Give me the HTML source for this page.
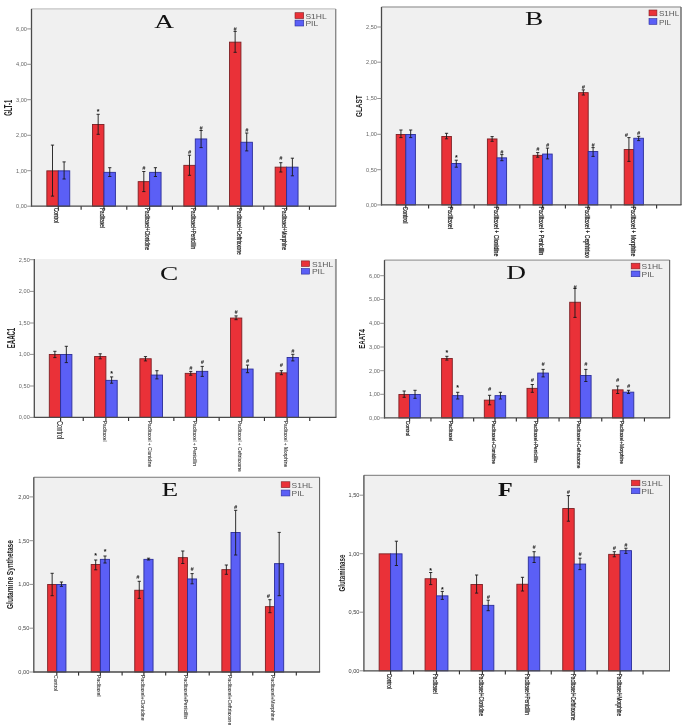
<!DOCTYPE html>
<html lang="en"><head><meta charset="utf-8"><title>Figure</title>
<style>html,body{margin:0;padding:0;background:#fff;}body{width:685px;height:728px;overflow:hidden;}svg{display:block;}</style>
</head><body>
<svg width="685" height="728" viewBox="0 0 685 728">
<rect x="0" y="0" width="685" height="728" fill="#ffffff"/>
<defs>
<clipPath id="cp0"><rect x="0" y="0" width="343" height="258"/></clipPath>
<clipPath id="cp1"><rect x="343" y="0" width="342" height="257.8"/></clipPath>
<clipPath id="cp2"><rect x="0" y="258" width="343" height="214"/></clipPath>
<clipPath id="cp3"><rect x="343" y="258" width="342" height="214"/></clipPath>
<clipPath id="cp4"><rect x="0" y="472" width="332" height="256"/></clipPath>
<clipPath id="cp5"><rect x="332" y="472" width="353" height="256"/></clipPath>
<filter id="soft" x="0" y="0" width="685" height="728" filterUnits="userSpaceOnUse" color-interpolation-filters="sRGB"><feGaussianBlur stdDeviation="0.5"/></filter>
</defs>
<g filter="url(#soft)">
<rect x="-5" y="-5" width="695" height="738" fill="#ffffff"/>
<g clip-path="url(#cp0)">
<g>
<rect x="31.5" y="8.9" width="304.20" height="197.30" fill="#F0F0F0"/>
<line x1="31.5" y1="8.9" x2="335.7" y2="8.9" stroke="#c4c4c4" stroke-width="1.4"/>
<line x1="335.7" y1="8.9" x2="335.7" y2="206.2" stroke="#8a8a8a" stroke-width="1.4"/>
<rect x="46.85" y="170.85" width="11.45" height="35.35" fill="#EA3138" stroke="#7c2024" stroke-width="0.9"/>
<rect x="58.30" y="170.85" width="11.45" height="35.35" fill="#5B5FF6" stroke="#2b2e9a" stroke-width="0.9"/>
<path d="M52.50 145.10V196.10M50.90 145.10H54.10M50.90 196.10H54.10" stroke="#1a1a1a" stroke-width="0.9" fill="none"/>
<path d="M64.10 161.90V179.00M62.50 161.90H65.70M62.50 179.00H65.70" stroke="#1a1a1a" stroke-width="0.9" fill="none"/>
<rect x="92.51" y="124.45" width="11.45" height="81.75" fill="#EA3138" stroke="#7c2024" stroke-width="0.9"/>
<rect x="103.96" y="172.35" width="11.45" height="33.85" fill="#5B5FF6" stroke="#2b2e9a" stroke-width="0.9"/>
<path d="M98.16 114.30V134.30M96.56 114.30H99.76M96.56 134.30H99.76" stroke="#1a1a1a" stroke-width="0.9" fill="none"/>
<path d="M109.76 167.70V176.50M108.16 167.70H111.36M108.16 176.50H111.36" stroke="#1a1a1a" stroke-width="0.9" fill="none"/>
<text transform="translate(98.16,113.90)" font-family='"Liberation Sans", sans-serif' font-size="7" font-weight="bold" fill="#111" text-anchor="middle" >*</text>
<rect x="138.17" y="181.65" width="11.45" height="24.55" fill="#EA3138" stroke="#7c2024" stroke-width="0.9"/>
<rect x="149.62" y="172.35" width="11.45" height="33.85" fill="#5B5FF6" stroke="#2b2e9a" stroke-width="0.9"/>
<path d="M143.82 171.50V191.60M142.22 171.50H145.42M142.22 191.60H145.42" stroke="#1a1a1a" stroke-width="0.9" fill="none"/>
<path d="M155.42 167.70V176.50M153.82 167.70H157.02M153.82 176.50H157.02" stroke="#1a1a1a" stroke-width="0.9" fill="none"/>
<text transform="translate(143.82,170.20)" font-family='"Liberation Sans", sans-serif' font-size="5.6" font-weight="bold" fill="#111" text-anchor="middle" font-style="italic">#</text>
<rect x="183.83" y="165.35" width="11.45" height="40.85" fill="#EA3138" stroke="#7c2024" stroke-width="0.9"/>
<rect x="195.28" y="138.95" width="11.45" height="67.25" fill="#5B5FF6" stroke="#2b2e9a" stroke-width="0.9"/>
<path d="M189.48 155.20V175.30M187.88 155.20H191.08M187.88 175.30H191.08" stroke="#1a1a1a" stroke-width="0.9" fill="none"/>
<path d="M201.08 130.50V147.60M199.48 130.50H202.68M199.48 147.60H202.68" stroke="#1a1a1a" stroke-width="0.9" fill="none"/>
<text transform="translate(189.48,154.00)" font-family='"Liberation Sans", sans-serif' font-size="5.6" font-weight="bold" fill="#111" text-anchor="middle" font-style="italic">#</text>
<text transform="translate(201.08,130.00)" font-family='"Liberation Sans", sans-serif' font-size="5.6" font-weight="bold" fill="#111" text-anchor="middle" font-style="italic">#</text>
<rect x="229.49" y="42.15" width="11.45" height="164.05" fill="#EA3138" stroke="#7c2024" stroke-width="0.9"/>
<rect x="240.94" y="142.25" width="11.45" height="63.95" fill="#5B5FF6" stroke="#2b2e9a" stroke-width="0.9"/>
<path d="M235.14 31.40V52.30M233.54 31.40H236.74M233.54 52.30H236.74" stroke="#1a1a1a" stroke-width="0.9" fill="none"/>
<path d="M246.74 133.00V150.90M245.14 133.00H248.34M245.14 150.90H248.34" stroke="#1a1a1a" stroke-width="0.9" fill="none"/>
<text transform="translate(235.14,31.00)" font-family='"Liberation Sans", sans-serif' font-size="5.6" font-weight="bold" fill="#111" text-anchor="middle" font-style="italic">#</text>
<text transform="translate(246.74,132.00)" font-family='"Liberation Sans", sans-serif' font-size="5.6" font-weight="bold" fill="#111" text-anchor="middle" font-style="italic">#</text>
<rect x="275.15" y="167.15" width="11.45" height="39.05" fill="#EA3138" stroke="#7c2024" stroke-width="0.9"/>
<rect x="286.60" y="167.15" width="11.45" height="39.05" fill="#5B5FF6" stroke="#2b2e9a" stroke-width="0.9"/>
<path d="M280.80 162.70V172.00M279.20 162.70H282.40M279.20 172.00H282.40" stroke="#1a1a1a" stroke-width="0.9" fill="none"/>
<path d="M292.40 158.20V175.80M290.80 158.20H294.00M290.80 175.80H294.00" stroke="#1a1a1a" stroke-width="0.9" fill="none"/>
<text transform="translate(280.80,160.40)" font-family='"Liberation Sans", sans-serif' font-size="5.6" font-weight="bold" fill="#111" text-anchor="middle" font-style="italic">#</text>
<line x1="31.5" y1="8.9" x2="31.5" y2="206.7" stroke="#4a4a4a" stroke-width="1.3"/>
<line x1="31.0" y1="206.2" x2="336.2" y2="206.2" stroke="#4a4a4a" stroke-width="1.3"/>
<line x1="27.2" y1="28.90" x2="31.5" y2="28.90" stroke="#777" stroke-width="0.8"/>
<text transform="translate(27.00,30.80) scale(1.06,1)" font-family='"Liberation Sans", sans-serif' font-size="5.3" font-weight="normal" fill="#666" text-anchor="end" >6,00</text>
<line x1="27.2" y1="64.30" x2="31.5" y2="64.30" stroke="#777" stroke-width="0.8"/>
<text transform="translate(27.00,66.20) scale(1.06,1)" font-family='"Liberation Sans", sans-serif' font-size="5.3" font-weight="normal" fill="#666" text-anchor="end" >4,00</text>
<line x1="27.2" y1="99.70" x2="31.5" y2="99.70" stroke="#777" stroke-width="0.8"/>
<text transform="translate(27.00,101.60) scale(1.06,1)" font-family='"Liberation Sans", sans-serif' font-size="5.3" font-weight="normal" fill="#666" text-anchor="end" >3,00</text>
<line x1="27.2" y1="135.30" x2="31.5" y2="135.30" stroke="#777" stroke-width="0.8"/>
<text transform="translate(27.00,137.20) scale(1.06,1)" font-family='"Liberation Sans", sans-serif' font-size="5.3" font-weight="normal" fill="#666" text-anchor="end" >2,00</text>
<line x1="27.2" y1="170.70" x2="31.5" y2="170.70" stroke="#777" stroke-width="0.8"/>
<text transform="translate(27.00,172.60) scale(1.06,1)" font-family='"Liberation Sans", sans-serif' font-size="5.3" font-weight="normal" fill="#666" text-anchor="end" >1,00</text>
<line x1="27.2" y1="206.20" x2="31.5" y2="206.20" stroke="#777" stroke-width="0.8"/>
<text transform="translate(27.00,208.10) scale(1.06,1)" font-family='"Liberation Sans", sans-serif' font-size="5.3" font-weight="normal" fill="#666" text-anchor="end" >0,00</text>
<line x1="81.13" y1="206.2" x2="81.13" y2="209.79999999999998" stroke="#333" stroke-width="1.15"/>
<line x1="126.79" y1="206.2" x2="126.79" y2="209.79999999999998" stroke="#333" stroke-width="1.15"/>
<line x1="172.45" y1="206.2" x2="172.45" y2="209.79999999999998" stroke="#333" stroke-width="1.15"/>
<line x1="218.11" y1="206.2" x2="218.11" y2="209.79999999999998" stroke="#333" stroke-width="1.15"/>
<line x1="263.77" y1="206.2" x2="263.77" y2="209.79999999999998" stroke="#333" stroke-width="1.15"/>
<line x1="309.43" y1="206.2" x2="309.43" y2="209.79999999999998" stroke="#333" stroke-width="1.15"/>
<line x1="58.30" y1="206.2" x2="58.30" y2="209.79999999999998" stroke="#333" stroke-width="1.15"/>
<text transform="translate(54.00,207.90) rotate(90) scale(0.69,1)" font-family='"Liberation Sans", sans-serif' font-size="6.8" font-weight="normal" fill="#1c1c1c" text-anchor="start" stroke="#1c1c1c" stroke-width="0.22">Control</text>
<line x1="103.96" y1="206.2" x2="103.96" y2="209.79999999999998" stroke="#333" stroke-width="1.15"/>
<text transform="translate(99.66,207.90) rotate(90) scale(0.69,1)" font-family='"Liberation Sans", sans-serif' font-size="6.8" font-weight="normal" fill="#1c1c1c" text-anchor="start" stroke="#1c1c1c" stroke-width="0.22">Paclitaxel</text>
<line x1="149.62" y1="206.2" x2="149.62" y2="209.79999999999998" stroke="#333" stroke-width="1.15"/>
<text transform="translate(145.32,207.90) rotate(90) scale(0.69,1)" font-family='"Liberation Sans", sans-serif' font-size="6.8" font-weight="normal" fill="#1c1c1c" text-anchor="start" stroke="#1c1c1c" stroke-width="0.22">Paclitaxel+Clonidine</text>
<line x1="195.28" y1="206.2" x2="195.28" y2="209.79999999999998" stroke="#333" stroke-width="1.15"/>
<text transform="translate(190.98,207.90) rotate(90) scale(0.69,1)" font-family='"Liberation Sans", sans-serif' font-size="6.8" font-weight="normal" fill="#1c1c1c" text-anchor="start" stroke="#1c1c1c" stroke-width="0.22">Paclitaxel+Penicillin</text>
<line x1="240.94" y1="206.2" x2="240.94" y2="209.79999999999998" stroke="#333" stroke-width="1.15"/>
<text transform="translate(236.64,207.90) rotate(90) scale(0.69,1)" font-family='"Liberation Sans", sans-serif' font-size="6.8" font-weight="normal" fill="#1c1c1c" text-anchor="start" stroke="#1c1c1c" stroke-width="0.22">Paclitaxel+Ceftriaxone</text>
<line x1="286.60" y1="206.2" x2="286.60" y2="209.79999999999998" stroke="#333" stroke-width="1.15"/>
<text transform="translate(282.30,207.90) rotate(90) scale(0.69,1)" font-family='"Liberation Sans", sans-serif' font-size="6.8" font-weight="normal" fill="#1c1c1c" text-anchor="start" stroke="#1c1c1c" stroke-width="0.22">Paclitaxel+Morphine</text>
<text transform="translate(12.30,107.80) rotate(-90) scale(0.585,1)" font-family='"Liberation Sans", sans-serif' font-size="10" font-weight="bold" fill="#222" text-anchor="middle" >GLT-1</text>
<text transform="translate(154.20,27.90) scale(1.44,1)" font-family='"Liberation Serif", serif' font-size="19" font-weight="normal" fill="#111" text-anchor="start" >A</text>
<rect x="295.0" y="12.7" width="8.7" height="5.9" fill="#EA3138" stroke="#7c2024" stroke-width="0.6"/>
<rect x="295.0" y="20.10" width="8.7" height="5.9" fill="#5B5FF6" stroke="#2b2e9a" stroke-width="0.6"/>
<text transform="translate(305.40,18.80) scale(1.22,1)" font-family='"Liberation Sans", sans-serif' font-size="7" font-weight="normal" fill="#5a5a5a" text-anchor="start" >S1HL</text>
<text transform="translate(305.40,26.20) scale(1.22,1)" font-family='"Liberation Sans", sans-serif' font-size="7" font-weight="normal" fill="#5a5a5a" text-anchor="start" >PIL</text>
</g>
</g>
<g clip-path="url(#cp1)">
<g>
<rect x="381.5" y="7.0" width="299.50" height="197.90" fill="#F0F0F0"/>
<line x1="381.5" y1="7.0" x2="681.0" y2="7.0" stroke="#aaaaaa" stroke-width="1.4"/>
<line x1="681.0" y1="7.0" x2="681.0" y2="204.9" stroke="#707070" stroke-width="1.5"/>
<rect x="396.20" y="134.45" width="9.60" height="70.45" fill="#EA3138" stroke="#7c2024" stroke-width="0.9"/>
<rect x="405.80" y="134.45" width="9.60" height="70.45" fill="#5B5FF6" stroke="#2b2e9a" stroke-width="0.9"/>
<path d="M400.93 130.00V137.60M399.32 130.00H402.53M399.32 137.60H402.53" stroke="#1a1a1a" stroke-width="0.9" fill="none"/>
<path d="M410.68 130.00V137.60M409.07 130.00H412.28M409.07 137.60H412.28" stroke="#1a1a1a" stroke-width="0.9" fill="none"/>
<rect x="441.80" y="136.45" width="9.60" height="68.45" fill="#EA3138" stroke="#7c2024" stroke-width="0.9"/>
<rect x="451.40" y="163.55" width="9.60" height="41.35" fill="#5B5FF6" stroke="#2b2e9a" stroke-width="0.9"/>
<path d="M446.53 133.30V138.80M444.93 133.30H448.13M444.93 138.80H448.13" stroke="#1a1a1a" stroke-width="0.9" fill="none"/>
<path d="M456.28 160.20V167.20M454.68 160.20H457.88M454.68 167.20H457.88" stroke="#1a1a1a" stroke-width="0.9" fill="none"/>
<text transform="translate(456.28,159.80)" font-family='"Liberation Sans", sans-serif' font-size="7" font-weight="bold" fill="#111" text-anchor="middle" >*</text>
<rect x="487.40" y="138.95" width="9.60" height="65.95" fill="#EA3138" stroke="#7c2024" stroke-width="0.9"/>
<rect x="497.00" y="157.85" width="9.60" height="47.05" fill="#5B5FF6" stroke="#2b2e9a" stroke-width="0.9"/>
<path d="M492.12 136.60V141.30M490.52 136.60H493.73M490.52 141.30H493.73" stroke="#1a1a1a" stroke-width="0.9" fill="none"/>
<path d="M501.88 154.60V160.70M500.27 154.60H503.48M500.27 160.70H503.48" stroke="#1a1a1a" stroke-width="0.9" fill="none"/>
<text transform="translate(501.88,154.10)" font-family='"Liberation Sans", sans-serif' font-size="5.6" font-weight="bold" fill="#111" text-anchor="middle" font-style="italic">#</text>
<rect x="533.00" y="155.35" width="9.60" height="49.55" fill="#EA3138" stroke="#7c2024" stroke-width="0.9"/>
<rect x="542.60" y="154.05" width="9.60" height="50.85" fill="#5B5FF6" stroke="#2b2e9a" stroke-width="0.9"/>
<path d="M537.73 152.60V157.20M536.12 152.60H539.33M536.12 157.20H539.33" stroke="#1a1a1a" stroke-width="0.9" fill="none"/>
<path d="M547.48 148.10V158.90M545.88 148.10H549.08M545.88 158.90H549.08" stroke="#1a1a1a" stroke-width="0.9" fill="none"/>
<text transform="translate(537.73,150.90)" font-family='"Liberation Sans", sans-serif' font-size="5.6" font-weight="bold" fill="#111" text-anchor="middle" font-style="italic">#</text>
<text transform="translate(547.48,147.10)" font-family='"Liberation Sans", sans-serif' font-size="5.6" font-weight="bold" fill="#111" text-anchor="middle" font-style="italic">#</text>
<rect x="578.60" y="92.65" width="9.60" height="112.25" fill="#EA3138" stroke="#7c2024" stroke-width="0.9"/>
<rect x="588.20" y="151.55" width="9.60" height="53.35" fill="#5B5FF6" stroke="#2b2e9a" stroke-width="0.9"/>
<path d="M583.33 89.90V95.00M581.73 89.90H584.93M581.73 95.00H584.93" stroke="#1a1a1a" stroke-width="0.9" fill="none"/>
<path d="M593.08 147.60V156.40M591.48 147.60H594.68M591.48 156.40H594.68" stroke="#1a1a1a" stroke-width="0.9" fill="none"/>
<text transform="translate(583.33,89.40)" font-family='"Liberation Sans", sans-serif' font-size="5.6" font-weight="bold" fill="#111" text-anchor="middle" font-style="italic">#</text>
<text transform="translate(593.08,147.10)" font-family='"Liberation Sans", sans-serif' font-size="5.6" font-weight="bold" fill="#111" text-anchor="middle" font-style="italic">#</text>
<rect x="624.20" y="149.55" width="9.60" height="55.35" fill="#EA3138" stroke="#7c2024" stroke-width="0.9"/>
<rect x="633.80" y="138.25" width="9.60" height="66.65" fill="#5B5FF6" stroke="#2b2e9a" stroke-width="0.9"/>
<path d="M628.92 137.60V161.40M627.32 137.60H630.52M627.32 161.40H630.52" stroke="#1a1a1a" stroke-width="0.9" fill="none"/>
<path d="M638.67 136.30V140.60M637.07 136.30H640.27M637.07 140.60H640.27" stroke="#1a1a1a" stroke-width="0.9" fill="none"/>
<text transform="translate(626.42,137.00)" font-family='"Liberation Sans", sans-serif' font-size="5.6" font-weight="bold" fill="#111" text-anchor="middle" font-style="italic">#</text>
<text transform="translate(638.67,134.50)" font-family='"Liberation Sans", sans-serif' font-size="5.6" font-weight="bold" fill="#111" text-anchor="middle" font-style="italic">#</text>
<line x1="381.5" y1="7.0" x2="381.5" y2="205.4" stroke="#4a4a4a" stroke-width="1.3"/>
<line x1="381.0" y1="204.9" x2="681.5" y2="204.9" stroke="#4a4a4a" stroke-width="1.3"/>
<line x1="377.2" y1="27.00" x2="381.5" y2="27.00" stroke="#777" stroke-width="0.8"/>
<text transform="translate(377.00,28.90) scale(1.06,1)" font-family='"Liberation Sans", sans-serif' font-size="5.3" font-weight="normal" fill="#666" text-anchor="end" >2,50</text>
<line x1="377.2" y1="62.20" x2="381.5" y2="62.20" stroke="#777" stroke-width="0.8"/>
<text transform="translate(377.00,64.10) scale(1.06,1)" font-family='"Liberation Sans", sans-serif' font-size="5.3" font-weight="normal" fill="#666" text-anchor="end" >2,00</text>
<line x1="377.2" y1="98.50" x2="381.5" y2="98.50" stroke="#777" stroke-width="0.8"/>
<text transform="translate(377.00,100.40) scale(1.06,1)" font-family='"Liberation Sans", sans-serif' font-size="5.3" font-weight="normal" fill="#666" text-anchor="end" >1,50</text>
<line x1="377.2" y1="134.30" x2="381.5" y2="134.30" stroke="#777" stroke-width="0.8"/>
<text transform="translate(377.00,136.20) scale(1.06,1)" font-family='"Liberation Sans", sans-serif' font-size="5.3" font-weight="normal" fill="#666" text-anchor="end" >1,00</text>
<line x1="377.2" y1="169.70" x2="381.5" y2="169.70" stroke="#777" stroke-width="0.8"/>
<text transform="translate(377.00,171.60) scale(1.06,1)" font-family='"Liberation Sans", sans-serif' font-size="5.3" font-weight="normal" fill="#666" text-anchor="end" >0,50</text>
<line x1="377.2" y1="204.90" x2="381.5" y2="204.90" stroke="#777" stroke-width="0.8"/>
<text transform="translate(377.00,206.80) scale(1.06,1)" font-family='"Liberation Sans", sans-serif' font-size="5.3" font-weight="normal" fill="#666" text-anchor="end" >0,00</text>
<line x1="428.60" y1="204.9" x2="428.60" y2="208.5" stroke="#333" stroke-width="1.15"/>
<line x1="474.20" y1="204.9" x2="474.20" y2="208.5" stroke="#333" stroke-width="1.15"/>
<line x1="519.80" y1="204.9" x2="519.80" y2="208.5" stroke="#333" stroke-width="1.15"/>
<line x1="565.40" y1="204.9" x2="565.40" y2="208.5" stroke="#333" stroke-width="1.15"/>
<line x1="611.00" y1="204.9" x2="611.00" y2="208.5" stroke="#333" stroke-width="1.15"/>
<line x1="656.60" y1="204.9" x2="656.60" y2="208.5" stroke="#333" stroke-width="1.15"/>
<line x1="405.80" y1="204.9" x2="405.80" y2="208.5" stroke="#333" stroke-width="1.15"/>
<text transform="translate(402.50,206.60) rotate(90) scale(0.8,1)" font-family='"Liberation Sans", sans-serif' font-size="6.5" font-weight="normal" fill="#1c1c1c" text-anchor="start" stroke="#1c1c1c" stroke-width="0.22">Control</text>
<line x1="451.40" y1="204.9" x2="451.40" y2="208.5" stroke="#333" stroke-width="1.15"/>
<text transform="translate(448.10,206.60) rotate(90) scale(0.8,1)" font-family='"Liberation Sans", sans-serif' font-size="6.5" font-weight="normal" fill="#1c1c1c" text-anchor="start" stroke="#1c1c1c" stroke-width="0.22">Paclitaxel</text>
<line x1="497.00" y1="204.9" x2="497.00" y2="208.5" stroke="#333" stroke-width="1.15"/>
<text transform="translate(493.70,206.60) rotate(90) scale(0.8,1)" font-family='"Liberation Sans", sans-serif' font-size="6.5" font-weight="normal" fill="#1c1c1c" text-anchor="start" stroke="#1c1c1c" stroke-width="0.22">Paclitaxel + Clonidine</text>
<line x1="542.60" y1="204.9" x2="542.60" y2="208.5" stroke="#333" stroke-width="1.15"/>
<text transform="translate(539.30,206.60) rotate(90) scale(0.8,1)" font-family='"Liberation Sans", sans-serif' font-size="6.5" font-weight="normal" fill="#1c1c1c" text-anchor="start" stroke="#1c1c1c" stroke-width="0.22">Paclitaxel + Penicillin</text>
<line x1="588.20" y1="204.9" x2="588.20" y2="208.5" stroke="#333" stroke-width="1.15"/>
<text transform="translate(584.90,206.60) rotate(90) scale(0.8,1)" font-family='"Liberation Sans", sans-serif' font-size="6.5" font-weight="normal" fill="#1c1c1c" text-anchor="start" stroke="#1c1c1c" stroke-width="0.22">Paclitaxel + Cephtriaxone</text>
<line x1="633.80" y1="204.9" x2="633.80" y2="208.5" stroke="#333" stroke-width="1.15"/>
<text transform="translate(630.50,206.60) rotate(90) scale(0.8,1)" font-family='"Liberation Sans", sans-serif' font-size="6.5" font-weight="normal" fill="#1c1c1c" text-anchor="start" stroke="#1c1c1c" stroke-width="0.22">Paclitaxel + Morphine</text>
<text transform="translate(361.90,106.20) rotate(-90) scale(0.664,1)" font-family='"Liberation Sans", sans-serif' font-size="9.6" font-weight="bold" fill="#222" text-anchor="middle" >GLAST</text>
<text transform="translate(525.00,25.00) scale(1.44,1)" font-family='"Liberation Serif", serif' font-size="19" font-weight="normal" fill="#111" text-anchor="start" >B</text>
<rect x="649.0" y="10.0" width="7.9" height="5.8" fill="#EA3138" stroke="#7c2024" stroke-width="0.6"/>
<rect x="649.0" y="18.60" width="7.9" height="5.8" fill="#5B5FF6" stroke="#2b2e9a" stroke-width="0.6"/>
<text transform="translate(658.90,16.00) scale(1.16,1)" font-family='"Liberation Sans", sans-serif' font-size="7" font-weight="normal" fill="#5a5a5a" text-anchor="start" >S1HL</text>
<text transform="translate(658.90,24.60) scale(1.16,1)" font-family='"Liberation Sans", sans-serif' font-size="7" font-weight="normal" fill="#5a5a5a" text-anchor="start" >PIL</text>
</g>
</g>
<g clip-path="url(#cp2)">
<g>
<rect x="34.3" y="259.0" width="301.60" height="158.40" fill="#F0F0F0"/>
<line x1="335.9" y1="259.0" x2="335.9" y2="417.4" stroke="#999999" stroke-width="1.9"/>
<rect x="49.30" y="354.45" width="11.30" height="62.95" fill="#EA3138" stroke="#7c2024" stroke-width="0.9"/>
<rect x="60.60" y="354.45" width="11.30" height="62.95" fill="#5B5FF6" stroke="#2b2e9a" stroke-width="0.9"/>
<path d="M54.88 351.30V357.60M53.27 351.30H56.48M53.27 357.60H56.48" stroke="#1a1a1a" stroke-width="0.9" fill="none"/>
<path d="M66.33 346.30V362.60M64.73 346.30H67.92M64.73 362.60H67.92" stroke="#1a1a1a" stroke-width="0.9" fill="none"/>
<rect x="94.60" y="356.45" width="11.30" height="60.95" fill="#EA3138" stroke="#7c2024" stroke-width="0.9"/>
<rect x="105.90" y="380.35" width="11.30" height="37.05" fill="#5B5FF6" stroke="#2b2e9a" stroke-width="0.9"/>
<path d="M100.18 353.80V358.80M98.58 353.80H101.78M98.58 358.80H101.78" stroke="#1a1a1a" stroke-width="0.9" fill="none"/>
<path d="M111.62 376.90V383.20M110.03 376.90H113.22M110.03 383.20H113.22" stroke="#1a1a1a" stroke-width="0.9" fill="none"/>
<text transform="translate(111.62,375.60)" font-family='"Liberation Sans", sans-serif' font-size="7" font-weight="bold" fill="#111" text-anchor="middle" >*</text>
<rect x="139.90" y="358.75" width="11.30" height="58.65" fill="#EA3138" stroke="#7c2024" stroke-width="0.9"/>
<rect x="151.20" y="375.05" width="11.30" height="42.35" fill="#5B5FF6" stroke="#2b2e9a" stroke-width="0.9"/>
<path d="M145.47 356.60V360.90M143.88 356.60H147.07M143.88 360.90H147.07" stroke="#1a1a1a" stroke-width="0.9" fill="none"/>
<path d="M156.92 370.70V378.90M155.32 370.70H158.52M155.32 378.90H158.52" stroke="#1a1a1a" stroke-width="0.9" fill="none"/>
<rect x="185.20" y="373.35" width="11.30" height="44.05" fill="#EA3138" stroke="#7c2024" stroke-width="0.9"/>
<rect x="196.50" y="371.35" width="11.30" height="46.05" fill="#5B5FF6" stroke="#2b2e9a" stroke-width="0.9"/>
<path d="M190.77 371.40V375.20M189.17 371.40H192.37M189.17 375.20H192.37" stroke="#1a1a1a" stroke-width="0.9" fill="none"/>
<path d="M202.22 366.40V376.40M200.62 366.40H203.82M200.62 376.40H203.82" stroke="#1a1a1a" stroke-width="0.9" fill="none"/>
<text transform="translate(190.77,370.10)" font-family='"Liberation Sans", sans-serif' font-size="5.6" font-weight="bold" fill="#111" text-anchor="middle" font-style="italic">#</text>
<text transform="translate(202.22,364.10)" font-family='"Liberation Sans", sans-serif' font-size="5.6" font-weight="bold" fill="#111" text-anchor="middle" font-style="italic">#</text>
<rect x="230.50" y="318.05" width="11.30" height="99.35" fill="#EA3138" stroke="#7c2024" stroke-width="0.9"/>
<rect x="241.80" y="369.05" width="11.30" height="48.35" fill="#5B5FF6" stroke="#2b2e9a" stroke-width="0.9"/>
<path d="M236.07 315.90V319.70M234.47 315.90H237.67M234.47 319.70H237.67" stroke="#1a1a1a" stroke-width="0.9" fill="none"/>
<path d="M247.52 365.10V372.70M245.92 365.10H249.12M245.92 372.70H249.12" stroke="#1a1a1a" stroke-width="0.9" fill="none"/>
<text transform="translate(236.07,313.60)" font-family='"Liberation Sans", sans-serif' font-size="5.6" font-weight="bold" fill="#111" text-anchor="middle" font-style="italic">#</text>
<text transform="translate(247.52,362.60)" font-family='"Liberation Sans", sans-serif' font-size="5.6" font-weight="bold" fill="#111" text-anchor="middle" font-style="italic">#</text>
<rect x="275.80" y="372.85" width="11.30" height="44.55" fill="#EA3138" stroke="#7c2024" stroke-width="0.9"/>
<rect x="287.10" y="357.45" width="11.30" height="59.95" fill="#5B5FF6" stroke="#2b2e9a" stroke-width="0.9"/>
<path d="M281.38 370.70V374.70M279.77 370.70H282.98M279.77 374.70H282.98" stroke="#1a1a1a" stroke-width="0.9" fill="none"/>
<path d="M292.83 354.30V360.90M291.23 354.30H294.43M291.23 360.90H294.43" stroke="#1a1a1a" stroke-width="0.9" fill="none"/>
<text transform="translate(281.38,367.10)" font-family='"Liberation Sans", sans-serif' font-size="5.6" font-weight="bold" fill="#111" text-anchor="middle" font-style="italic">#</text>
<text transform="translate(292.83,352.60)" font-family='"Liberation Sans", sans-serif' font-size="5.6" font-weight="bold" fill="#111" text-anchor="middle" font-style="italic">#</text>
<line x1="34.3" y1="259.0" x2="34.3" y2="417.9" stroke="#4a4a4a" stroke-width="1.3"/>
<line x1="33.8" y1="417.4" x2="336.4" y2="417.4" stroke="#4a4a4a" stroke-width="1.3"/>
<line x1="29.999999999999996" y1="259.70" x2="34.3" y2="259.70" stroke="#777" stroke-width="0.8"/>
<text transform="translate(29.80,261.60) scale(1.06,1)" font-family='"Liberation Sans", sans-serif' font-size="5.3" font-weight="normal" fill="#666" text-anchor="end" >2,50</text>
<line x1="29.999999999999996" y1="291.40" x2="34.3" y2="291.40" stroke="#777" stroke-width="0.8"/>
<text transform="translate(29.80,293.30) scale(1.06,1)" font-family='"Liberation Sans", sans-serif' font-size="5.3" font-weight="normal" fill="#666" text-anchor="end" >2,00</text>
<line x1="29.999999999999996" y1="323.00" x2="34.3" y2="323.00" stroke="#777" stroke-width="0.8"/>
<text transform="translate(29.80,324.90) scale(1.06,1)" font-family='"Liberation Sans", sans-serif' font-size="5.3" font-weight="normal" fill="#666" text-anchor="end" >1,50</text>
<line x1="29.999999999999996" y1="354.40" x2="34.3" y2="354.40" stroke="#777" stroke-width="0.8"/>
<text transform="translate(29.80,356.30) scale(1.06,1)" font-family='"Liberation Sans", sans-serif' font-size="5.3" font-weight="normal" fill="#666" text-anchor="end" >1,00</text>
<line x1="29.999999999999996" y1="386.00" x2="34.3" y2="386.00" stroke="#777" stroke-width="0.8"/>
<text transform="translate(29.80,387.90) scale(1.06,1)" font-family='"Liberation Sans", sans-serif' font-size="5.3" font-weight="normal" fill="#666" text-anchor="end" >0,50</text>
<line x1="29.999999999999996" y1="417.40" x2="34.3" y2="417.40" stroke="#777" stroke-width="0.8"/>
<text transform="translate(29.80,419.30) scale(1.06,1)" font-family='"Liberation Sans", sans-serif' font-size="5.3" font-weight="normal" fill="#666" text-anchor="end" >0,00</text>
<line x1="83.25" y1="417.4" x2="83.25" y2="421.0" stroke="#333" stroke-width="1.15"/>
<line x1="128.55" y1="417.4" x2="128.55" y2="421.0" stroke="#333" stroke-width="1.15"/>
<line x1="173.85" y1="417.4" x2="173.85" y2="421.0" stroke="#333" stroke-width="1.15"/>
<line x1="219.15" y1="417.4" x2="219.15" y2="421.0" stroke="#333" stroke-width="1.15"/>
<line x1="264.45" y1="417.4" x2="264.45" y2="421.0" stroke="#333" stroke-width="1.15"/>
<line x1="309.75" y1="417.4" x2="309.75" y2="421.0" stroke="#333" stroke-width="1.15"/>
<line x1="60.60" y1="417.4" x2="60.60" y2="421.0" stroke="#333" stroke-width="1.15"/>
<text transform="translate(56.70,421.00) rotate(90) scale(0.68,1)" font-family='"Liberation Sans", sans-serif' font-size="8.4" font-weight="normal" fill="#2a2a2a" text-anchor="start" stroke="#2a2a2a" stroke-width="0.1">Control</text>
<line x1="105.90" y1="417.4" x2="105.90" y2="421.0" stroke="#333" stroke-width="1.15"/>
<text transform="translate(102.50,420.80) rotate(90) scale(0.78,1)" font-family='"Liberation Sans", sans-serif' font-size="6.2" font-weight="normal" fill="#2a2a2a" text-anchor="start" stroke="#2a2a2a" stroke-width="0.1">Paclitaxel</text>
<line x1="151.20" y1="417.4" x2="151.20" y2="421.0" stroke="#333" stroke-width="1.15"/>
<text transform="translate(147.80,420.80) rotate(90) scale(0.78,1)" font-family='"Liberation Sans", sans-serif' font-size="6.2" font-weight="normal" fill="#2a2a2a" text-anchor="start" stroke="#2a2a2a" stroke-width="0.1">Paclitaxel + Clonidine</text>
<line x1="196.50" y1="417.4" x2="196.50" y2="421.0" stroke="#333" stroke-width="1.15"/>
<text transform="translate(193.10,420.80) rotate(90) scale(0.78,1)" font-family='"Liberation Sans", sans-serif' font-size="6.2" font-weight="normal" fill="#2a2a2a" text-anchor="start" stroke="#2a2a2a" stroke-width="0.1">Paclitaxel + Penicillin</text>
<line x1="241.80" y1="417.4" x2="241.80" y2="421.0" stroke="#333" stroke-width="1.15"/>
<text transform="translate(238.40,420.80) rotate(90) scale(0.78,1)" font-family='"Liberation Sans", sans-serif' font-size="6.2" font-weight="normal" fill="#2a2a2a" text-anchor="start" stroke="#2a2a2a" stroke-width="0.1">Paclitaxel + Ceftriaxone</text>
<line x1="287.10" y1="417.4" x2="287.10" y2="421.0" stroke="#333" stroke-width="1.15"/>
<text transform="translate(283.70,420.80) rotate(90) scale(0.78,1)" font-family='"Liberation Sans", sans-serif' font-size="6.2" font-weight="normal" fill="#2a2a2a" text-anchor="start" stroke="#2a2a2a" stroke-width="0.1">Paclitaxel + Morphine</text>
<text transform="translate(15.20,338.00) rotate(-90) scale(0.6,1)" font-family='"Liberation Sans", sans-serif' font-size="10" font-weight="bold" fill="#222" text-anchor="middle" >EAAC1</text>
<text transform="translate(160.00,280.00) scale(1.44,1)" font-family='"Liberation Serif", serif' font-size="19" font-weight="normal" fill="#111" text-anchor="start" >C</text>
<rect x="301.3" y="260.9" width="8.3" height="5.6" fill="#EA3138" stroke="#7c2024" stroke-width="0.6"/>
<rect x="301.3" y="268.50" width="8.3" height="5.6" fill="#5B5FF6" stroke="#2b2e9a" stroke-width="0.6"/>
<text transform="translate(311.90,266.70) scale(1.22,1)" font-family='"Liberation Sans", sans-serif' font-size="7" font-weight="normal" fill="#5a5a5a" text-anchor="start" >S1HL</text>
<text transform="translate(311.90,274.30) scale(1.22,1)" font-family='"Liberation Sans", sans-serif' font-size="7" font-weight="normal" fill="#5a5a5a" text-anchor="start" >PIL</text>
</g>
</g>
<g clip-path="url(#cp3)">
<g>
<rect x="384.5" y="260.1" width="285.10" height="157.80" fill="#F0F0F0"/>
<line x1="384.5" y1="260.1" x2="669.6" y2="260.1" stroke="#9c9c9c" stroke-width="1.2"/>
<line x1="669.6" y1="260.1" x2="669.6" y2="417.9" stroke="#666666" stroke-width="1.2"/>
<rect x="398.90" y="394.45" width="10.70" height="23.45" fill="#EA3138" stroke="#7c2024" stroke-width="0.9"/>
<rect x="409.60" y="394.45" width="10.70" height="23.45" fill="#5B5FF6" stroke="#2b2e9a" stroke-width="0.9"/>
<path d="M404.18 391.00V397.30M402.57 391.00H405.78M402.57 397.30H405.78" stroke="#1a1a1a" stroke-width="0.9" fill="none"/>
<path d="M415.03 390.30V398.30M413.43 390.30H416.63M413.43 398.30H416.63" stroke="#1a1a1a" stroke-width="0.9" fill="none"/>
<rect x="441.60" y="358.45" width="10.70" height="59.45" fill="#EA3138" stroke="#7c2024" stroke-width="0.9"/>
<rect x="452.30" y="395.65" width="10.70" height="22.25" fill="#5B5FF6" stroke="#2b2e9a" stroke-width="0.9"/>
<path d="M446.88 356.30V360.10M445.27 356.30H448.48M445.27 360.10H448.48" stroke="#1a1a1a" stroke-width="0.9" fill="none"/>
<path d="M457.73 392.30V399.00M456.12 392.30H459.33M456.12 399.00H459.33" stroke="#1a1a1a" stroke-width="0.9" fill="none"/>
<text transform="translate(446.88,355.20)" font-family='"Liberation Sans", sans-serif' font-size="7" font-weight="bold" fill="#111" text-anchor="middle" >*</text>
<text transform="translate(457.73,390.40)" font-family='"Liberation Sans", sans-serif' font-size="7" font-weight="bold" fill="#111" text-anchor="middle" >*</text>
<rect x="484.30" y="400.15" width="10.70" height="17.75" fill="#EA3138" stroke="#7c2024" stroke-width="0.9"/>
<rect x="495.00" y="395.65" width="10.70" height="22.25" fill="#5B5FF6" stroke="#2b2e9a" stroke-width="0.9"/>
<path d="M489.57 395.30V404.80M487.97 395.30H491.18M487.97 404.80H491.18" stroke="#1a1a1a" stroke-width="0.9" fill="none"/>
<path d="M500.43 392.30V399.00M498.82 392.30H502.03M498.82 399.00H502.03" stroke="#1a1a1a" stroke-width="0.9" fill="none"/>
<text transform="translate(489.57,391.00)" font-family='"Liberation Sans", sans-serif' font-size="5.6" font-weight="bold" fill="#111" text-anchor="middle" font-style="italic">#</text>
<rect x="527.00" y="388.35" width="10.70" height="29.55" fill="#EA3138" stroke="#7c2024" stroke-width="0.9"/>
<rect x="537.70" y="373.05" width="10.70" height="44.85" fill="#5B5FF6" stroke="#2b2e9a" stroke-width="0.9"/>
<path d="M532.28 384.50V392.30M530.68 384.50H533.88M530.68 392.30H533.88" stroke="#1a1a1a" stroke-width="0.9" fill="none"/>
<path d="M543.12 369.40V376.90M541.52 369.40H544.73M541.52 376.90H544.73" stroke="#1a1a1a" stroke-width="0.9" fill="none"/>
<text transform="translate(532.28,382.20)" font-family='"Liberation Sans", sans-serif' font-size="5.6" font-weight="bold" fill="#111" text-anchor="middle" font-style="italic">#</text>
<text transform="translate(543.12,366.40)" font-family='"Liberation Sans", sans-serif' font-size="5.6" font-weight="bold" fill="#111" text-anchor="middle" font-style="italic">#</text>
<rect x="569.70" y="302.25" width="10.70" height="115.65" fill="#EA3138" stroke="#7c2024" stroke-width="0.9"/>
<rect x="580.40" y="375.55" width="10.70" height="42.35" fill="#5B5FF6" stroke="#2b2e9a" stroke-width="0.9"/>
<path d="M574.98 288.50V317.40M573.38 288.50H576.58M573.38 317.40H576.58" stroke="#1a1a1a" stroke-width="0.9" fill="none"/>
<path d="M585.83 369.40V381.50M584.23 369.40H587.43M584.23 381.50H587.43" stroke="#1a1a1a" stroke-width="0.9" fill="none"/>
<text transform="translate(574.98,288.50)" font-family='"Liberation Sans", sans-serif' font-size="5.6" font-weight="bold" fill="#111" text-anchor="middle" font-style="italic">#</text>
<text transform="translate(585.83,366.40)" font-family='"Liberation Sans", sans-serif' font-size="5.6" font-weight="bold" fill="#111" text-anchor="middle" font-style="italic">#</text>
<rect x="612.40" y="389.85" width="10.70" height="28.05" fill="#EA3138" stroke="#7c2024" stroke-width="0.9"/>
<rect x="623.10" y="392.15" width="10.70" height="25.75" fill="#5B5FF6" stroke="#2b2e9a" stroke-width="0.9"/>
<path d="M617.68 386.00V393.50M616.08 386.00H619.28M616.08 393.50H619.28" stroke="#1a1a1a" stroke-width="0.9" fill="none"/>
<path d="M628.52 390.30V393.50M626.92 390.30H630.12M626.92 393.50H630.12" stroke="#1a1a1a" stroke-width="0.9" fill="none"/>
<text transform="translate(617.68,381.70)" font-family='"Liberation Sans", sans-serif' font-size="5.6" font-weight="bold" fill="#111" text-anchor="middle" font-style="italic">#</text>
<text transform="translate(628.52,387.70)" font-family='"Liberation Sans", sans-serif' font-size="5.6" font-weight="bold" fill="#111" text-anchor="middle" font-style="italic">#</text>
<line x1="384.5" y1="260.1" x2="384.5" y2="418.4" stroke="#4a4a4a" stroke-width="1.3"/>
<line x1="384.0" y1="417.9" x2="670.1" y2="417.9" stroke="#4a4a4a" stroke-width="1.3"/>
<line x1="380.2" y1="275.70" x2="384.5" y2="275.70" stroke="#777" stroke-width="0.8"/>
<text transform="translate(380.00,277.60) scale(1.06,1)" font-family='"Liberation Sans", sans-serif' font-size="5.3" font-weight="normal" fill="#666" text-anchor="end" >6,00</text>
<line x1="380.2" y1="299.50" x2="384.5" y2="299.50" stroke="#777" stroke-width="0.8"/>
<text transform="translate(380.00,301.40) scale(1.06,1)" font-family='"Liberation Sans", sans-serif' font-size="5.3" font-weight="normal" fill="#666" text-anchor="end" >5,00</text>
<line x1="380.2" y1="323.30" x2="384.5" y2="323.30" stroke="#777" stroke-width="0.8"/>
<text transform="translate(380.00,325.20) scale(1.06,1)" font-family='"Liberation Sans", sans-serif' font-size="5.3" font-weight="normal" fill="#666" text-anchor="end" >4,00</text>
<line x1="380.2" y1="347.00" x2="384.5" y2="347.00" stroke="#777" stroke-width="0.8"/>
<text transform="translate(380.00,348.90) scale(1.06,1)" font-family='"Liberation Sans", sans-serif' font-size="5.3" font-weight="normal" fill="#666" text-anchor="end" >3,00</text>
<line x1="380.2" y1="370.70" x2="384.5" y2="370.70" stroke="#777" stroke-width="0.8"/>
<text transform="translate(380.00,372.60) scale(1.06,1)" font-family='"Liberation Sans", sans-serif' font-size="5.3" font-weight="normal" fill="#666" text-anchor="end" >2,00</text>
<line x1="380.2" y1="394.30" x2="384.5" y2="394.30" stroke="#777" stroke-width="0.8"/>
<text transform="translate(380.00,396.20) scale(1.06,1)" font-family='"Liberation Sans", sans-serif' font-size="5.3" font-weight="normal" fill="#666" text-anchor="end" >1,00</text>
<line x1="380.2" y1="417.90" x2="384.5" y2="417.90" stroke="#777" stroke-width="0.8"/>
<text transform="translate(380.00,419.80) scale(1.06,1)" font-family='"Liberation Sans", sans-serif' font-size="5.3" font-weight="normal" fill="#666" text-anchor="end" >0,00</text>
<line x1="430.95" y1="417.9" x2="430.95" y2="421.5" stroke="#333" stroke-width="1.15"/>
<line x1="473.65" y1="417.9" x2="473.65" y2="421.5" stroke="#333" stroke-width="1.15"/>
<line x1="516.35" y1="417.9" x2="516.35" y2="421.5" stroke="#333" stroke-width="1.15"/>
<line x1="559.05" y1="417.9" x2="559.05" y2="421.5" stroke="#333" stroke-width="1.15"/>
<line x1="601.75" y1="417.9" x2="601.75" y2="421.5" stroke="#333" stroke-width="1.15"/>
<line x1="644.45" y1="417.9" x2="644.45" y2="421.5" stroke="#333" stroke-width="1.15"/>
<line x1="409.60" y1="417.9" x2="409.60" y2="421.5" stroke="#333" stroke-width="1.15"/>
<text transform="translate(406.10,420.80) rotate(90) scale(0.77,1)" font-family='"Liberation Sans", sans-serif' font-size="6.2" font-weight="normal" fill="#222" text-anchor="start" stroke="#222" stroke-width="0.22">Control</text>
<line x1="452.30" y1="417.9" x2="452.30" y2="421.5" stroke="#333" stroke-width="1.15"/>
<text transform="translate(448.80,420.80) rotate(90) scale(0.77,1)" font-family='"Liberation Sans", sans-serif' font-size="6.2" font-weight="normal" fill="#222" text-anchor="start" stroke="#222" stroke-width="0.22">Paclitaxel</text>
<line x1="495.00" y1="417.9" x2="495.00" y2="421.5" stroke="#333" stroke-width="1.15"/>
<text transform="translate(491.50,420.80) rotate(90) scale(0.77,1)" font-family='"Liberation Sans", sans-serif' font-size="6.2" font-weight="normal" fill="#222" text-anchor="start" stroke="#222" stroke-width="0.22">Paclitaxel+Clonidine</text>
<line x1="537.70" y1="417.9" x2="537.70" y2="421.5" stroke="#333" stroke-width="1.15"/>
<text transform="translate(534.20,420.80) rotate(90) scale(0.77,1)" font-family='"Liberation Sans", sans-serif' font-size="6.2" font-weight="normal" fill="#222" text-anchor="start" stroke="#222" stroke-width="0.22">Paclitaxel+Penicillin</text>
<line x1="580.40" y1="417.9" x2="580.40" y2="421.5" stroke="#333" stroke-width="1.15"/>
<text transform="translate(576.90,420.80) rotate(90) scale(0.77,1)" font-family='"Liberation Sans", sans-serif' font-size="6.2" font-weight="normal" fill="#222" text-anchor="start" stroke="#222" stroke-width="0.22">Paclitaxel+Ceftriaxone</text>
<line x1="623.10" y1="417.9" x2="623.10" y2="421.5" stroke="#333" stroke-width="1.15"/>
<text transform="translate(619.60,420.80) rotate(90) scale(0.77,1)" font-family='"Liberation Sans", sans-serif' font-size="6.2" font-weight="normal" fill="#222" text-anchor="start" stroke="#222" stroke-width="0.22">Paclitaxel+Morphine</text>
<text transform="translate(364.90,338.90) rotate(-90) scale(0.66,1)" font-family='"Liberation Sans", sans-serif' font-size="9.4" font-weight="bold" fill="#222" text-anchor="middle" >EAAT4</text>
<text transform="translate(506.20,279.40) scale(1.44,1)" font-family='"Liberation Serif", serif' font-size="19" font-weight="normal" fill="#111" text-anchor="start" >D</text>
<rect x="631.2" y="263.2" width="8.7" height="5.7" fill="#EA3138" stroke="#7c2024" stroke-width="0.6"/>
<rect x="631.2" y="271.00" width="8.7" height="5.7" fill="#5B5FF6" stroke="#2b2e9a" stroke-width="0.6"/>
<text transform="translate(641.60,269.10) scale(1.21,1)" font-family='"Liberation Sans", sans-serif' font-size="7" font-weight="normal" fill="#5a5a5a" text-anchor="start" >S1HL</text>
<text transform="translate(641.60,276.90) scale(1.21,1)" font-family='"Liberation Sans", sans-serif' font-size="7" font-weight="normal" fill="#5a5a5a" text-anchor="start" >PIL</text>
</g>
</g>
<g clip-path="url(#cp4)">
<g>
<rect x="33.8" y="477.3" width="285.80" height="194.70" fill="#F0F0F0"/>
<line x1="33.8" y1="477.3" x2="319.6" y2="477.3" stroke="#777777" stroke-width="1.1"/>
<line x1="319.6" y1="477.3" x2="319.6" y2="672.0" stroke="#5a5a5a" stroke-width="1.0"/>
<rect x="47.65" y="584.45" width="9.15" height="87.55" fill="#EA3138" stroke="#7c2024" stroke-width="0.9"/>
<rect x="56.80" y="584.45" width="9.15" height="87.55" fill="#5B5FF6" stroke="#2b2e9a" stroke-width="0.9"/>
<path d="M52.15 573.30V595.70M50.55 573.30H53.75M50.55 595.70H53.75" stroke="#1a1a1a" stroke-width="0.9" fill="none"/>
<path d="M61.45 582.00V586.40M59.85 582.00H63.05M59.85 586.40H63.05" stroke="#1a1a1a" stroke-width="0.9" fill="none"/>
<rect x="91.20" y="564.45" width="9.15" height="107.55" fill="#EA3138" stroke="#7c2024" stroke-width="0.9"/>
<rect x="100.35" y="559.35" width="9.15" height="112.65" fill="#5B5FF6" stroke="#2b2e9a" stroke-width="0.9"/>
<path d="M95.70 560.00V569.80M94.10 560.00H97.30M94.10 569.80H97.30" stroke="#1a1a1a" stroke-width="0.9" fill="none"/>
<path d="M105.00 556.00V563.00M103.40 556.00H106.60M103.40 563.00H106.60" stroke="#1a1a1a" stroke-width="0.9" fill="none"/>
<text transform="translate(95.70,558.40)" font-family='"Liberation Sans", sans-serif' font-size="7" font-weight="bold" fill="#111" text-anchor="middle" >*</text>
<text transform="translate(105.00,554.40)" font-family='"Liberation Sans", sans-serif' font-size="7" font-weight="bold" fill="#111" text-anchor="middle" >*</text>
<rect x="134.75" y="590.25" width="9.15" height="81.75" fill="#EA3138" stroke="#7c2024" stroke-width="0.9"/>
<rect x="143.90" y="559.35" width="9.15" height="112.65" fill="#5B5FF6" stroke="#2b2e9a" stroke-width="0.9"/>
<path d="M139.25 581.30V598.40M137.65 581.30H140.85M137.65 598.40H140.85" stroke="#1a1a1a" stroke-width="0.9" fill="none"/>
<path d="M148.55 558.20V560.00M146.95 558.20H150.15M146.95 560.00H150.15" stroke="#1a1a1a" stroke-width="0.9" fill="none"/>
<text transform="translate(137.75,579.00)" font-family='"Liberation Sans", sans-serif' font-size="5.6" font-weight="bold" fill="#111" text-anchor="middle" font-style="italic">#</text>
<rect x="178.30" y="557.65" width="9.15" height="114.35" fill="#EA3138" stroke="#7c2024" stroke-width="0.9"/>
<rect x="187.45" y="578.95" width="9.15" height="93.05" fill="#5B5FF6" stroke="#2b2e9a" stroke-width="0.9"/>
<path d="M182.80 551.00V563.50M181.20 551.00H184.40M181.20 563.50H184.40" stroke="#1a1a1a" stroke-width="0.9" fill="none"/>
<path d="M192.10 573.60V583.80M190.50 573.60H193.70M190.50 583.80H193.70" stroke="#1a1a1a" stroke-width="0.9" fill="none"/>
<text transform="translate(192.10,570.80)" font-family='"Liberation Sans", sans-serif' font-size="5.6" font-weight="bold" fill="#111" text-anchor="middle" font-style="italic">#</text>
<rect x="221.85" y="569.65" width="9.15" height="102.35" fill="#EA3138" stroke="#7c2024" stroke-width="0.9"/>
<rect x="231.00" y="532.55" width="9.15" height="139.45" fill="#5B5FF6" stroke="#2b2e9a" stroke-width="0.9"/>
<path d="M226.35 565.00V574.30M224.75 565.00H227.95M224.75 574.30H227.95" stroke="#1a1a1a" stroke-width="0.9" fill="none"/>
<path d="M235.65 510.30V555.00M234.05 510.30H237.25M234.05 555.00H237.25" stroke="#1a1a1a" stroke-width="0.9" fill="none"/>
<text transform="translate(235.65,509.20)" font-family='"Liberation Sans", sans-serif' font-size="5.6" font-weight="bold" fill="#111" text-anchor="middle" font-style="italic">#</text>
<rect x="265.40" y="606.65" width="9.15" height="65.35" fill="#EA3138" stroke="#7c2024" stroke-width="0.9"/>
<rect x="274.55" y="563.65" width="9.15" height="108.35" fill="#5B5FF6" stroke="#2b2e9a" stroke-width="0.9"/>
<path d="M269.90 599.70V612.70M268.30 599.70H271.50M268.30 612.70H271.50" stroke="#1a1a1a" stroke-width="0.9" fill="none"/>
<path d="M279.20 532.40V595.70M277.60 532.40H280.80M277.60 595.70H280.80" stroke="#1a1a1a" stroke-width="0.9" fill="none"/>
<text transform="translate(268.40,597.70)" font-family='"Liberation Sans", sans-serif' font-size="5.6" font-weight="bold" fill="#111" text-anchor="middle" font-style="italic">#</text>
<line x1="33.8" y1="477.3" x2="33.8" y2="672.5" stroke="#4a4a4a" stroke-width="1.3"/>
<line x1="33.3" y1="672.0" x2="320.1" y2="672.0" stroke="#4a4a4a" stroke-width="1.3"/>
<line x1="29.499999999999996" y1="496.90" x2="33.8" y2="496.90" stroke="#777" stroke-width="0.8"/>
<text transform="translate(29.30,498.80) scale(1.06,1)" font-family='"Liberation Sans", sans-serif' font-size="5.3" font-weight="normal" fill="#444" text-anchor="end" >2,00</text>
<line x1="29.499999999999996" y1="540.70" x2="33.8" y2="540.70" stroke="#777" stroke-width="0.8"/>
<text transform="translate(29.30,542.60) scale(1.06,1)" font-family='"Liberation Sans", sans-serif' font-size="5.3" font-weight="normal" fill="#444" text-anchor="end" >1,50</text>
<line x1="29.499999999999996" y1="584.40" x2="33.8" y2="584.40" stroke="#777" stroke-width="0.8"/>
<text transform="translate(29.30,586.30) scale(1.06,1)" font-family='"Liberation Sans", sans-serif' font-size="5.3" font-weight="normal" fill="#444" text-anchor="end" >1,00</text>
<line x1="29.499999999999996" y1="628.20" x2="33.8" y2="628.20" stroke="#777" stroke-width="0.8"/>
<text transform="translate(29.30,630.10) scale(1.06,1)" font-family='"Liberation Sans", sans-serif' font-size="5.3" font-weight="normal" fill="#444" text-anchor="end" >0,50</text>
<line x1="29.499999999999996" y1="672.00" x2="33.8" y2="672.00" stroke="#777" stroke-width="0.8"/>
<text transform="translate(29.30,673.90) scale(1.06,1)" font-family='"Liberation Sans", sans-serif' font-size="5.3" font-weight="normal" fill="#444" text-anchor="end" >0,00</text>
<line x1="78.57" y1="672.0" x2="78.57" y2="675.6" stroke="#333" stroke-width="1.15"/>
<line x1="122.12" y1="672.0" x2="122.12" y2="675.6" stroke="#333" stroke-width="1.15"/>
<line x1="165.68" y1="672.0" x2="165.68" y2="675.6" stroke="#333" stroke-width="1.15"/>
<line x1="209.22" y1="672.0" x2="209.22" y2="675.6" stroke="#333" stroke-width="1.15"/>
<line x1="252.77" y1="672.0" x2="252.77" y2="675.6" stroke="#333" stroke-width="1.15"/>
<line x1="296.32" y1="672.0" x2="296.32" y2="675.6" stroke="#333" stroke-width="1.15"/>
<line x1="56.80" y1="672.0" x2="56.80" y2="675.6" stroke="#333" stroke-width="1.15"/>
<text transform="translate(53.50,675.00) rotate(90) scale(0.87,1)" font-family='"Liberation Sans", sans-serif' font-size="5.8" font-weight="normal" fill="#3a3a3a" text-anchor="start" stroke="#3a3a3a" stroke-width="0.1">Control</text>
<line x1="100.35" y1="672.0" x2="100.35" y2="675.6" stroke="#333" stroke-width="1.15"/>
<text transform="translate(97.05,675.00) rotate(90) scale(0.87,1)" font-family='"Liberation Sans", sans-serif' font-size="5.8" font-weight="normal" fill="#3a3a3a" text-anchor="start" stroke="#3a3a3a" stroke-width="0.1">Paclitaxel</text>
<line x1="143.90" y1="672.0" x2="143.90" y2="675.6" stroke="#333" stroke-width="1.15"/>
<text transform="translate(140.60,675.00) rotate(90) scale(0.87,1)" font-family='"Liberation Sans", sans-serif' font-size="5.8" font-weight="normal" fill="#3a3a3a" text-anchor="start" stroke="#3a3a3a" stroke-width="0.1">Paclitaxel+Clonidine</text>
<line x1="187.45" y1="672.0" x2="187.45" y2="675.6" stroke="#333" stroke-width="1.15"/>
<text transform="translate(184.15,675.00) rotate(90) scale(0.87,1)" font-family='"Liberation Sans", sans-serif' font-size="5.8" font-weight="normal" fill="#3a3a3a" text-anchor="start" stroke="#3a3a3a" stroke-width="0.1">Paclitaxel+Penicillin</text>
<line x1="231.00" y1="672.0" x2="231.00" y2="675.6" stroke="#333" stroke-width="1.15"/>
<text transform="translate(227.70,675.00) rotate(90) scale(0.87,1)" font-family='"Liberation Sans", sans-serif' font-size="5.8" font-weight="normal" fill="#3a3a3a" text-anchor="start" stroke="#3a3a3a" stroke-width="0.1">Paclitaxel+Ceftriaxone</text>
<line x1="274.55" y1="672.0" x2="274.55" y2="675.6" stroke="#333" stroke-width="1.15"/>
<text transform="translate(271.25,675.00) rotate(90) scale(0.87,1)" font-family='"Liberation Sans", sans-serif' font-size="5.8" font-weight="normal" fill="#3a3a3a" text-anchor="start" stroke="#3a3a3a" stroke-width="0.1">Paclitaxel+Morphine</text>
<text transform="translate(13.30,574.60) rotate(-90) scale(0.73,1)" font-family='"Liberation Sans", sans-serif' font-size="9" font-weight="bold" fill="#222" text-anchor="middle" >Glutamine Synthetase</text>
<text transform="translate(161.60,496.20) scale(1.44,1)" font-family='"Liberation Serif", serif' font-size="19" font-weight="normal" fill="#111" text-anchor="start" >E</text>
<rect x="281.2" y="481.75" width="8.7" height="5.9" fill="#EA3138" stroke="#7c2024" stroke-width="0.6"/>
<rect x="281.2" y="490.05" width="8.7" height="5.9" fill="#5B5FF6" stroke="#2b2e9a" stroke-width="0.6"/>
<text transform="translate(291.60,487.85) scale(1.21,1)" font-family='"Liberation Sans", sans-serif' font-size="7" font-weight="normal" fill="#5a5a5a" text-anchor="start" >S1HL</text>
<text transform="translate(291.60,496.15) scale(1.21,1)" font-family='"Liberation Sans", sans-serif' font-size="7" font-weight="normal" fill="#5a5a5a" text-anchor="start" >PIL</text>
</g>
</g>
<g clip-path="url(#cp5)">
<g>
<rect x="363.9" y="475.3" width="305.60" height="195.50" fill="#F0F0F0"/>
<line x1="363.9" y1="475.3" x2="669.5" y2="475.3" stroke="#777777" stroke-width="1.0"/>
<line x1="669.5" y1="475.3" x2="669.5" y2="670.8" stroke="#5a5a5a" stroke-width="1.0"/>
<rect x="379.15" y="553.85" width="11.45" height="116.95" fill="#EA3138" stroke="#7c2024" stroke-width="0.9"/>
<rect x="390.60" y="553.85" width="11.45" height="116.95" fill="#5B5FF6" stroke="#2b2e9a" stroke-width="0.9"/>
<path d="M396.40 541.20V565.50M394.80 541.20H398.00M394.80 565.50H398.00" stroke="#1a1a1a" stroke-width="0.9" fill="none"/>
<rect x="425.05" y="578.75" width="11.45" height="92.05" fill="#EA3138" stroke="#7c2024" stroke-width="0.9"/>
<rect x="436.50" y="595.85" width="11.45" height="74.95" fill="#5B5FF6" stroke="#2b2e9a" stroke-width="0.9"/>
<path d="M430.70 572.50V584.60M429.10 572.50H432.30M429.10 584.60H432.30" stroke="#1a1a1a" stroke-width="0.9" fill="none"/>
<path d="M442.30 591.40V599.40M440.70 591.40H443.90M440.70 599.40H443.90" stroke="#1a1a1a" stroke-width="0.9" fill="none"/>
<text transform="translate(430.70,572.90)" font-family='"Liberation Sans", sans-serif' font-size="7" font-weight="bold" fill="#111" text-anchor="middle" >*</text>
<text transform="translate(442.30,591.50)" font-family='"Liberation Sans", sans-serif' font-size="7" font-weight="bold" fill="#111" text-anchor="middle" >*</text>
<rect x="470.95" y="584.45" width="11.45" height="86.35" fill="#EA3138" stroke="#7c2024" stroke-width="0.9"/>
<rect x="482.40" y="605.35" width="11.45" height="65.45" fill="#5B5FF6" stroke="#2b2e9a" stroke-width="0.9"/>
<path d="M476.60 575.00V593.10M475.00 575.00H478.20M475.00 593.10H478.20" stroke="#1a1a1a" stroke-width="0.9" fill="none"/>
<path d="M488.20 600.20V610.70M486.60 600.20H489.80M486.60 610.70H489.80" stroke="#1a1a1a" stroke-width="0.9" fill="none"/>
<text transform="translate(488.20,599.20)" font-family='"Liberation Sans", sans-serif' font-size="5.6" font-weight="bold" fill="#111" text-anchor="middle" font-style="italic">#</text>
<rect x="516.85" y="584.25" width="11.45" height="86.55" fill="#EA3138" stroke="#7c2024" stroke-width="0.9"/>
<rect x="528.30" y="556.95" width="11.45" height="113.85" fill="#5B5FF6" stroke="#2b2e9a" stroke-width="0.9"/>
<path d="M522.50 577.30V591.00M520.90 577.30H524.10M520.90 591.00H524.10" stroke="#1a1a1a" stroke-width="0.9" fill="none"/>
<path d="M534.10 551.70V562.50M532.50 551.70H535.70M532.50 562.50H535.70" stroke="#1a1a1a" stroke-width="0.9" fill="none"/>
<text transform="translate(534.10,548.80)" font-family='"Liberation Sans", sans-serif' font-size="5.6" font-weight="bold" fill="#111" text-anchor="middle" font-style="italic">#</text>
<rect x="562.75" y="508.55" width="11.45" height="162.25" fill="#EA3138" stroke="#7c2024" stroke-width="0.9"/>
<rect x="574.20" y="564.05" width="11.45" height="106.75" fill="#5B5FF6" stroke="#2b2e9a" stroke-width="0.9"/>
<path d="M568.40 495.60V521.20M566.80 495.60H570.00M566.80 521.20H570.00" stroke="#1a1a1a" stroke-width="0.9" fill="none"/>
<path d="M580.00 558.20V569.60M578.40 558.20H581.60M578.40 569.60H581.60" stroke="#1a1a1a" stroke-width="0.9" fill="none"/>
<text transform="translate(568.40,493.90)" font-family='"Liberation Sans", sans-serif' font-size="5.6" font-weight="bold" fill="#111" text-anchor="middle" font-style="italic">#</text>
<text transform="translate(580.00,555.90)" font-family='"Liberation Sans", sans-serif' font-size="5.6" font-weight="bold" fill="#111" text-anchor="middle" font-style="italic">#</text>
<rect x="608.65" y="554.35" width="11.45" height="116.45" fill="#EA3138" stroke="#7c2024" stroke-width="0.9"/>
<rect x="620.10" y="550.65" width="11.45" height="120.15" fill="#5B5FF6" stroke="#2b2e9a" stroke-width="0.9"/>
<path d="M614.30 551.70V556.80M612.70 551.70H615.90M612.70 556.80H615.90" stroke="#1a1a1a" stroke-width="0.9" fill="none"/>
<path d="M625.90 548.20V553.40M624.30 548.20H627.50M624.30 553.40H627.50" stroke="#1a1a1a" stroke-width="0.9" fill="none"/>
<text transform="translate(614.30,550.20)" font-family='"Liberation Sans", sans-serif' font-size="5.6" font-weight="bold" fill="#111" text-anchor="middle" font-style="italic">#</text>
<text transform="translate(625.90,546.50)" font-family='"Liberation Sans", sans-serif' font-size="5.6" font-weight="bold" fill="#111" text-anchor="middle" font-style="italic">#</text>
<line x1="363.9" y1="475.3" x2="363.9" y2="671.3" stroke="#4a4a4a" stroke-width="1.3"/>
<line x1="363.4" y1="670.8" x2="670.0" y2="670.8" stroke="#4a4a4a" stroke-width="1.3"/>
<line x1="359.59999999999997" y1="495.20" x2="363.9" y2="495.20" stroke="#777" stroke-width="0.8"/>
<text transform="translate(359.40,497.10) scale(1.06,1)" font-family='"Liberation Sans", sans-serif' font-size="5.3" font-weight="normal" fill="#3a3a3a" text-anchor="end" >1,50</text>
<line x1="359.59999999999997" y1="553.70" x2="363.9" y2="553.70" stroke="#777" stroke-width="0.8"/>
<text transform="translate(359.40,555.60) scale(1.06,1)" font-family='"Liberation Sans", sans-serif' font-size="5.3" font-weight="normal" fill="#3a3a3a" text-anchor="end" >1,00</text>
<line x1="359.59999999999997" y1="612.20" x2="363.9" y2="612.20" stroke="#777" stroke-width="0.8"/>
<text transform="translate(359.40,614.10) scale(1.06,1)" font-family='"Liberation Sans", sans-serif' font-size="5.3" font-weight="normal" fill="#3a3a3a" text-anchor="end" >0,50</text>
<line x1="359.59999999999997" y1="670.80" x2="363.9" y2="670.80" stroke="#777" stroke-width="0.8"/>
<text transform="translate(359.40,672.70) scale(1.06,1)" font-family='"Liberation Sans", sans-serif' font-size="5.3" font-weight="normal" fill="#3a3a3a" text-anchor="end" >0,00</text>
<line x1="413.55" y1="670.8" x2="413.55" y2="674.4" stroke="#333" stroke-width="1.15"/>
<line x1="459.45" y1="670.8" x2="459.45" y2="674.4" stroke="#333" stroke-width="1.15"/>
<line x1="505.35" y1="670.8" x2="505.35" y2="674.4" stroke="#333" stroke-width="1.15"/>
<line x1="551.25" y1="670.8" x2="551.25" y2="674.4" stroke="#333" stroke-width="1.15"/>
<line x1="597.15" y1="670.8" x2="597.15" y2="674.4" stroke="#333" stroke-width="1.15"/>
<line x1="643.05" y1="670.8" x2="643.05" y2="674.4" stroke="#333" stroke-width="1.15"/>
<line x1="390.60" y1="670.8" x2="390.60" y2="674.4" stroke="#333" stroke-width="1.15"/>
<text transform="translate(387.20,673.70) rotate(90) scale(0.69,1)" font-family='"Liberation Sans", sans-serif' font-size="6.8" font-weight="normal" fill="#1c1c1c" text-anchor="start" stroke="#1c1c1c" stroke-width="0.22">Control</text>
<line x1="436.50" y1="670.8" x2="436.50" y2="674.4" stroke="#333" stroke-width="1.15"/>
<text transform="translate(433.10,673.70) rotate(90) scale(0.69,1)" font-family='"Liberation Sans", sans-serif' font-size="6.8" font-weight="normal" fill="#1c1c1c" text-anchor="start" stroke="#1c1c1c" stroke-width="0.22">Paclitaxel</text>
<line x1="482.40" y1="670.8" x2="482.40" y2="674.4" stroke="#333" stroke-width="1.15"/>
<text transform="translate(479.00,673.70) rotate(90) scale(0.69,1)" font-family='"Liberation Sans", sans-serif' font-size="6.8" font-weight="normal" fill="#1c1c1c" text-anchor="start" stroke="#1c1c1c" stroke-width="0.22">Paclitaxel+Clonidine</text>
<line x1="528.30" y1="670.8" x2="528.30" y2="674.4" stroke="#333" stroke-width="1.15"/>
<text transform="translate(524.90,673.70) rotate(90) scale(0.69,1)" font-family='"Liberation Sans", sans-serif' font-size="6.8" font-weight="normal" fill="#1c1c1c" text-anchor="start" stroke="#1c1c1c" stroke-width="0.22">Paclitaxel+Penicillin</text>
<line x1="574.20" y1="670.8" x2="574.20" y2="674.4" stroke="#333" stroke-width="1.15"/>
<text transform="translate(570.80,673.70) rotate(90) scale(0.69,1)" font-family='"Liberation Sans", sans-serif' font-size="6.8" font-weight="normal" fill="#1c1c1c" text-anchor="start" stroke="#1c1c1c" stroke-width="0.22">Paclitaxel+Ceftriaxone</text>
<line x1="620.10" y1="670.8" x2="620.10" y2="674.4" stroke="#333" stroke-width="1.15"/>
<text transform="translate(616.70,673.70) rotate(90) scale(0.69,1)" font-family='"Liberation Sans", sans-serif' font-size="6.8" font-weight="normal" fill="#1c1c1c" text-anchor="start" stroke="#1c1c1c" stroke-width="0.22">Paclitaxel+Morphine</text>
<text transform="translate(344.80,573.10) rotate(-90) scale(0.685,1)" font-family='"Liberation Sans", sans-serif' font-size="9" font-weight="bold" fill="#222" text-anchor="middle" >Glutaminase</text>
<text transform="translate(497.90,496.40) scale(1.27,1)" font-family='"Liberation Serif", serif' font-size="19" font-weight="bold" fill="#111" text-anchor="start" >F</text>
<rect x="631.4" y="480.2" width="8.5" height="5.6" fill="#EA3138" stroke="#7c2024" stroke-width="0.6"/>
<rect x="631.4" y="488.10" width="8.5" height="5.6" fill="#5B5FF6" stroke="#2b2e9a" stroke-width="0.6"/>
<text transform="translate(641.30,486.00) scale(1.22,1)" font-family='"Liberation Sans", sans-serif' font-size="7" font-weight="normal" fill="#5a5a5a" text-anchor="start" >S1HL</text>
<text transform="translate(641.30,493.90) scale(1.22,1)" font-family='"Liberation Sans", sans-serif' font-size="7" font-weight="normal" fill="#5a5a5a" text-anchor="start" >PIL</text>
</g>
</g>
</g>
</svg>
</body></html>
